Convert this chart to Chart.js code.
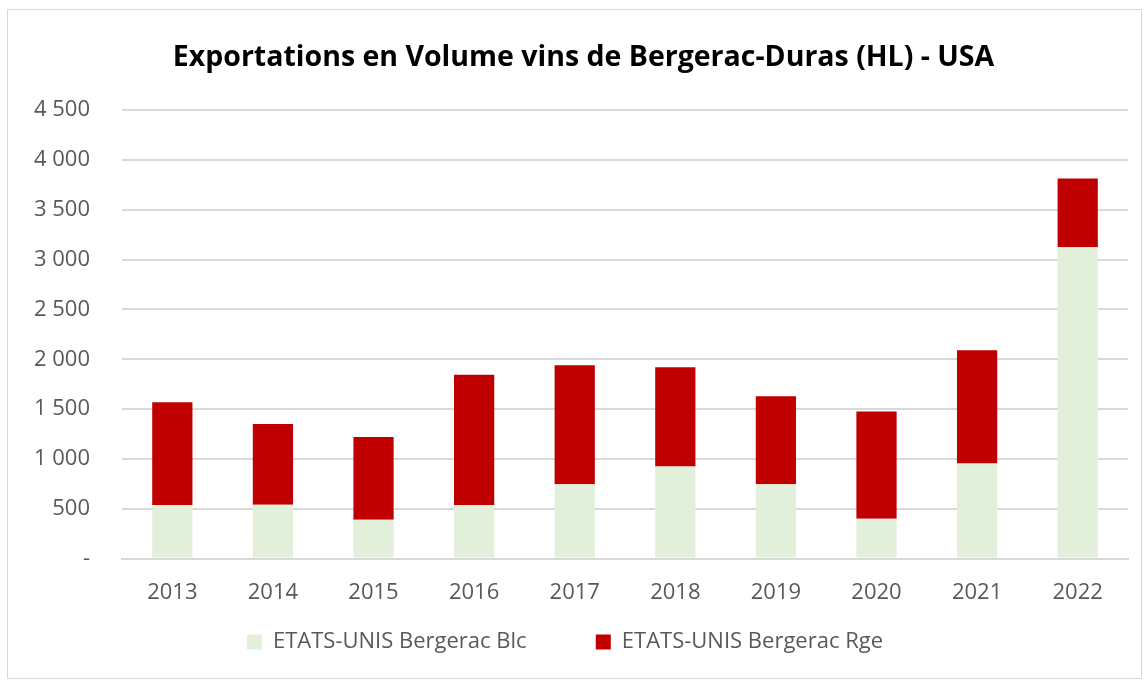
<!DOCTYPE html>
<html>
<head>
<meta charset="utf-8">
<script src="https://cdn.jsdelivr.net/npm/chart.js@4.4.1/dist/chart.umd.min.js"></script>
<style>
  html, body { margin: 0; padding: 0; background: #fff; }
  #frame {
    position: absolute; left: 7px; top: 9px; width: 1135px; height: 670px;
    border: 1.5px solid #d9d9d9; box-sizing: border-box;
  }
  #wrap { position: absolute; left: 0; top: 0; width: 1144px; height: 684px; }
</style>
</head>
<body>
<div id="frame"></div>
<div id="wrap"><canvas id="chart"></canvas></div>
<script>
  // Exportations USA, HL
  const years = ['2013', '2014', '2015', '2016', '2017', '2018', '2019', '2020', '2021', '2022'];
  const blanc = [535, 540, 390, 535, 745, 925, 745, 400, 955, 3125];
  const rouge = [1035, 810, 830, 1310, 1195, 995, 885, 1075, 1135, 690];

  const fontFam = "'Open Sans', 'Noto Sans', sans-serif";

  function fmtTick(v) {
    if (v === 0) return '-';
    return String(v).replace(/\B(?=(\d{3})+(?!\d))/g, ' ');
  }

  new Chart(document.getElementById('chart'), {
    type: 'bar',
    data: {
      labels: years,
      datasets: [
        { label: 'ETATS-UNIS Bergerac Blc', data: blanc, backgroundColor: '#e2efda', borderWidth: 0 },
        { label: 'ETATS-UNIS Bergerac Rge', data: rouge, backgroundColor: '#c00000', borderWidth: 0 },
      ],
    },
    options: {
      responsive: true,
      maintainAspectRatio: false,
      animation: false,
      layout: { padding: { left: 2, right: 16, top: 22, bottom: 21 } },
      datasets: { bar: { barPercentage: 0.4, categoryPercentage: 1.0 } },
      plugins: {
        title: {
          display: true,
          // leading spaces nudge the title a bit right, as in the original
          text: '     Exportations en Volume vins de Bergerac-Duras (HL) - USA',
          color: '#000',
          font: { family: fontFam, size: 28.5, weight: 'bold' },
          padding: { top: 19, bottom: 35 },
        },
        legend: {
          position: 'bottom',
          labels: {
            color: '#595959',
            font: { family: fontFam, size: 22 },
            boxWidth: 15, boxHeight: 15,
            padding: 12,
            // extra room after the first item, like the original
            generateLabels(chart) {
              const items = Chart.defaults.plugins.legend.labels.generateLabels(chart);
              items[0].text += '          ';
              return items;
            },
          },
        },
        tooltip: { enabled: false },
      },
      scales: {
        x: {
          stacked: true,
          grid: { display: false },
          border: { color: '#d9d9d9', width: 2 },
          ticks: { color: '#595959', font: { family: fontFam, size: 22 }, padding: 13 },
        },
        y: {
          stacked: true,
          min: 0, max: 4500,
          ticks: {
            stepSize: 500,
            color: '#595959',
            font: { family: fontFam, size: 22 },
            padding: 32,
            callback: fmtTick,
          },
          grid: { color: '#d9d9d9', lineWidth: 2, drawTicks: false },
          border: { display: false },
        },
      },
    },
  });
</script>
</body>
</html>
